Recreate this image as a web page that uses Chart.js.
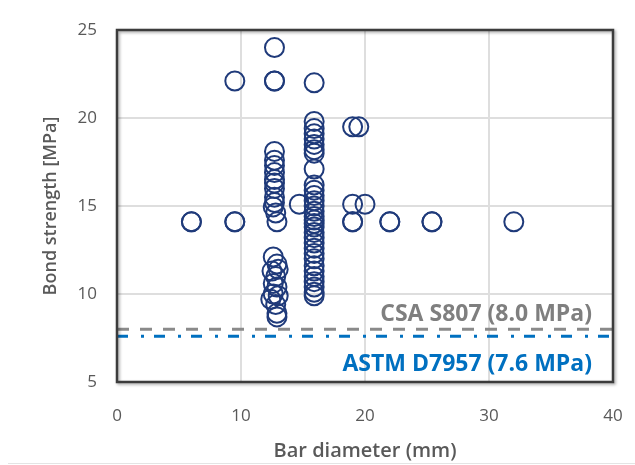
<!DOCTYPE html>
<html>
<head>
<meta charset="utf-8">
<title>Bond strength vs bar diameter</title>
<script src="https://cdn.jsdelivr.net/npm/chart.js@4/dist/chart.umd.min.js"></script>
<style>
  html, body { margin: 0; padding: 0; background: #ffffff; overflow: hidden; }
  #wrap { position: relative; width: 635px; height: 465px; }
  #chart { display: block; }
  #rule { position: absolute; left: 8px; right: 0; top: 463px; height: 1px; background: #e4e4e4; }
</style>
</head>
<body>
<div id="wrap">
  <canvas id="chart" width="635" height="465"></canvas>
  <div id="rule"></div>
</div>
<script>
// Bar diameter (mm) of each pull-out specimen
const barDiameterMm = [
  12.7, 9.5, 12.7, 12.7, 15.9,
  19.0, 19.5, 19.0, 20.0, 14.7,
  6.0, 6.0, 9.5, 9.5, 12.9, 19.0, 19.0, 22.0, 22.0, 25.4, 25.4, 32.0,
  12.7, 12.7, 12.7, 12.7, 12.7, 12.7, 12.7, 12.7, 12.7, 12.6, 12.8,
  12.6, 12.9, 12.5, 13.0, 12.8, 12.6, 12.9, 12.6, 13.0, 12.4, 12.8, 12.9, 12.9,
  15.9, 15.9, 15.9, 15.9, 15.9, 15.9, 15.9, 15.9, 15.9, 15.9, 15.9,
  15.9, 15.9, 15.9, 15.9, 15.9, 15.9, 15.9, 15.9, 15.9, 15.9, 15.9,
  15.9, 15.9, 15.9, 15.9, 15.9, 15.9, 15.9, 15.9, 15.9
];
// Measured bond strength (MPa), same order as barDiameterMm
const bondStrengthMPa = [
  24.0, 22.1, 22.1, 22.1, 22.0,
  19.5, 19.5, 15.1, 15.1, 15.1,
  14.1, 14.1, 14.1, 14.1, 14.1, 14.1, 14.1, 14.1, 14.1, 14.1, 14.1, 14.1,
  18.1, 17.6, 17.3, 16.9, 16.5, 16.3, 16.0, 15.5, 15.2, 14.95, 14.6,
  12.1, 11.7, 11.3, 11.4, 11.0, 10.6, 10.4, 10.0, 9.9, 9.7, 9.4, 8.9, 8.7,
  19.8, 19.4, 19.1, 18.8, 18.5, 18.2, 18.0, 17.1, 16.2, 15.9, 15.6,
  15.3, 15.0, 14.7, 14.4, 14.2, 14.0, 13.8, 13.5, 13.2, 12.9, 12.6,
  12.3, 12.0, 11.6, 11.3, 11.0, 10.7, 10.4, 10.1, 9.9
];

// Design minimums from the two standards (MPa)
const csaLimitMPa = 8.0;
const astmLimitMPa = 7.6;
const csaLabel = 'CSA S807 (8.0 MPa)';
const astmLabel = 'ASTM D7957 (7.6 MPa)';

// Axis ticks
const xTickValues = [0, 10, 20, 30, 40];
const yTickValues = [5, 10, 15, 20, 25];
const xTitle = 'Bar diameter (mm)';
const yTitle = 'Bond strength [MPa]';

const navy = '#1F3A7A';
const tickGrey = '#595959';
const fontFamily = '"Open Sans", Lato, sans-serif';

const specimens = barDiameterMm.map((d, i) => ({ x: d, y: bondStrengthMPa[i] }));
const xMin = xTickValues[0], xMax = xTickValues[xTickValues.length - 1];
const yMin = yTickValues[0], yMax = yTickValues[yTickValues.length - 1];

// Dark frame round the plotting area plus the two limit captions
const frameAndCaptions = {
  id: 'frameAndCaptions',
  afterDatasetsDraw(chart) {
    const { ctx, chartArea: a, scales } = chart;
    ctx.save();
    ctx.shadowColor = 'rgba(0,0,0,0.35)';
    ctx.shadowBlur = 3;
    ctx.shadowOffsetX = 1.5;
    ctx.shadowOffsetY = 1.5;
    ctx.strokeStyle = '#3c3c3c';
    ctx.lineWidth = 2.5;
    ctx.strokeRect(a.left, a.top, a.right - a.left, a.bottom - a.top);
    ctx.restore();

    ctx.save();
    ctx.textAlign = 'right';
    ctx.textBaseline = 'middle';
    ctx.font = 'bold 23px ' + fontFamily;
    const xr = a.right - 21;
    ctx.fillStyle = '#7f7f7f';
    ctx.fillText(csaLabel, xr, scales.y.getPixelForValue(csaLimitMPa) - 15);
    ctx.fillStyle = '#0070C0';
    ctx.fillText(astmLabel, xr, scales.y.getPixelForValue(6.0));
    ctx.restore();
  }
};

// Shared grid style; the tick marks are kept invisible and only push the labels out
const gridStyle = {
  color: '#dedede',
  lineWidth: 2,
  drawTicks: true,
  tickColor: 'rgba(0,0,0,0)'
};

new Chart(document.getElementById('chart'), {
  type: 'scatter',
  data: {
    datasets: [
      {
        label: 'Specimens',
        data: specimens,
        pointStyle: 'circle',
        pointRadius: 9.5,
        pointHoverRadius: 9.5,
        borderWidth: 2,
        pointBorderWidth: 2,
        borderColor: navy,
        backgroundColor: 'rgba(0,0,0,0)',
        order: 1
      },
      {
        label: 'CSA S807',
        data: [{ x: xMin, y: csaLimitMPa }, { x: xMax, y: csaLimitMPa }],
        showLine: true,
        pointRadius: 0,
        borderColor: '#8a8a8a',
        borderWidth: 3,
        borderDash: [12, 11],
        order: 2
      },
      {
        label: 'ASTM D7957',
        data: [{ x: xMin, y: astmLimitMPa }, { x: xMax, y: astmLimitMPa }],
        showLine: true,
        pointRadius: 0,
        borderColor: '#0070C0',
        borderWidth: 3,
        borderDash: [11, 13, 3, 10],
        order: 3
      }
    ]
  },
  options: {
    responsive: false,
    animation: false,
    events: [],
    layout: { padding: { top: 30, right: 22, left: 0, bottom: 0 } },
    plugins: {
      legend: { display: false },
      tooltip: { enabled: false }
    },
    scales: {
      x: {
        type: 'linear',
        min: xMin,
        max: xMax,
        afterBuildTicks: s => { s.ticks = xTickValues.map(v => ({ value: v })); },
        afterFit: s => { s.height = 83; },
        grid: Object.assign({ tickLength: 21 }, gridStyle),
        border: { display: false },
        ticks: { padding: 3, color: tickGrey, font: { family: fontFamily, size: 17 } },
        title: {
          display: true,
          text: xTitle,
          color: tickGrey,
          padding: { top: 0, bottom: 2 },
          font: { family: fontFamily, size: 20, weight: '600' }
        }
      },
      y: {
        type: 'linear',
        min: yMin,
        max: yMax,
        afterBuildTicks: s => { s.ticks = yTickValues.map(v => ({ value: v })); },
        afterFit: s => { s.width = 117; },
        grid: Object.assign({ tickLength: 17 }, gridStyle),
        border: { display: false },
        ticks: { padding: 3, color: tickGrey, font: { family: fontFamily, size: 17 } },
        title: {
          display: true,
          text: yTitle,
          color: tickGrey,
          padding: { top: 40, bottom: 0 },
          font: { family: fontFamily, size: 18, weight: '600' }
        }
      }
    }
  },
  plugins: [frameAndCaptions]
});
</script>
</body>
</html>
